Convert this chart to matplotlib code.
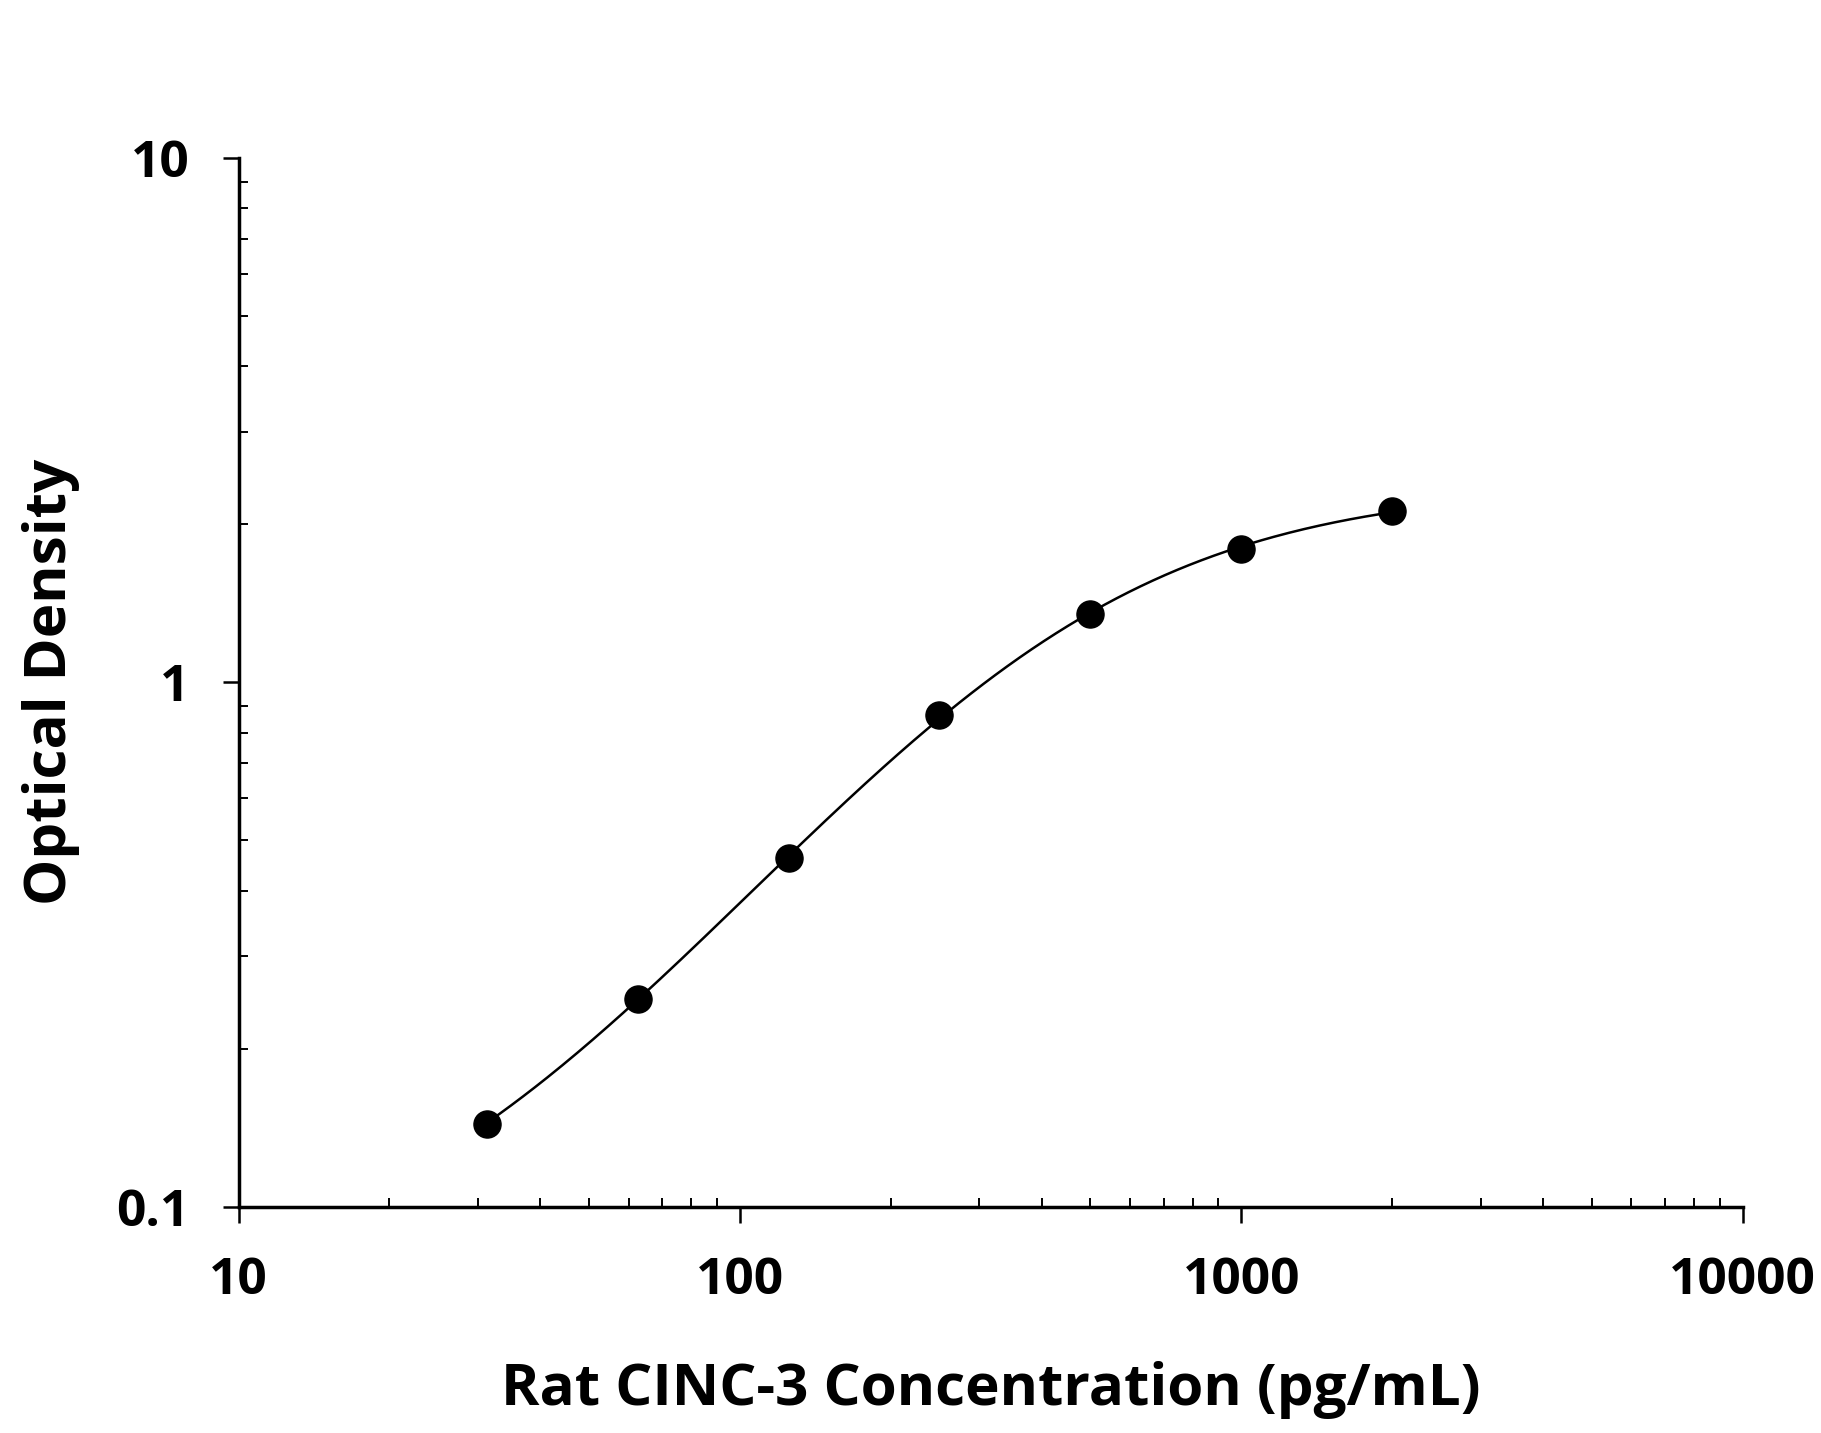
import numpy as np
import matplotlib
matplotlib.use('Agg')
import matplotlib.pyplot as plt
from matplotlib import ticker

plt.rcParams['font.family'] = ['Open Sans', 'DejaVu Sans']
plt.rcParams['font.weight'] = 'bold'

conc = [31.25, 62.5, 125, 250, 500, 1000, 2000]
od = [0.144, 0.249, 0.463, 0.867, 1.35, 1.79, 2.12]
xticks = [10, 100, 1000, 10000]
yticks = [0.1, 1, 10]

# 4PL fit: grid over slope b and midpoint c, linear solve for a, d
x = np.array(conc, dtype=float)
y = np.array(od, dtype=float)
best = None
for b in np.linspace(0.5, 3.0, 126):
    for lc in np.linspace(2.0, 4.5, 251):
        g = 1.0 / (1.0 + (x / 10**lc)**b)
        A = np.column_stack([g, 1 - g]) / y[:, None]
        sol, *_ = np.linalg.lstsq(A, y / y, rcond=None)
        err = np.sum((A @ sol - 1)**2)
        if best is None or err < best[0]:
            best = (err, b, lc, sol)
_, b, lc, (a, d) = best
xs = np.logspace(np.log10(x[0]), np.log10(x[-1]), 300)
ys = d + (a - d) / (1.0 + (xs / 10**lc)**b)

fig = plt.figure(figsize=(18.21, 14.33), dpi=100)
ax = fig.add_axes([0.131, 0.158, 0.826, 0.732])

ax.plot(xs, ys, color='black', lw=1.8, zorder=2)
ax.plot(conc, od, 'o', color='black', ms=19.5, zorder=3)

ax.set_xscale('log')
ax.set_yscale('log')
ax.set_xlim(10, 10000)
ax.set_ylim(0.1, 10)
ax.set_xticks(xticks)
ax.set_yticks(yticks)
fmt = ticker.FuncFormatter(lambda v, _: f'{v:g}')
ax.xaxis.set_major_formatter(fmt)
ax.yaxis.set_major_formatter(fmt)
ax.xaxis.set_minor_formatter(ticker.NullFormatter())
ax.yaxis.set_minor_formatter(ticker.NullFormatter())

for s in ['top', 'right']:
    ax.spines[s].set_visible(False)
for s in ['left', 'bottom']:
    ax.spines[s].set_linewidth(2.5)

ax.tick_params(which='major', direction='out', length=11.5, width=1.8,
               labelsize=37, pad=24)
ax.tick_params(which='minor', direction='in', length=6.5, width=1.4)

ax.set_xlabel('Rat CINC-3 Concentration (pg/mL)', fontsize=42, fontweight='bold', labelpad=40)
ax.set_ylabel('Optical Density', fontsize=42, fontweight='bold', labelpad=26)

fig.savefig('out.png', dpi=100)
